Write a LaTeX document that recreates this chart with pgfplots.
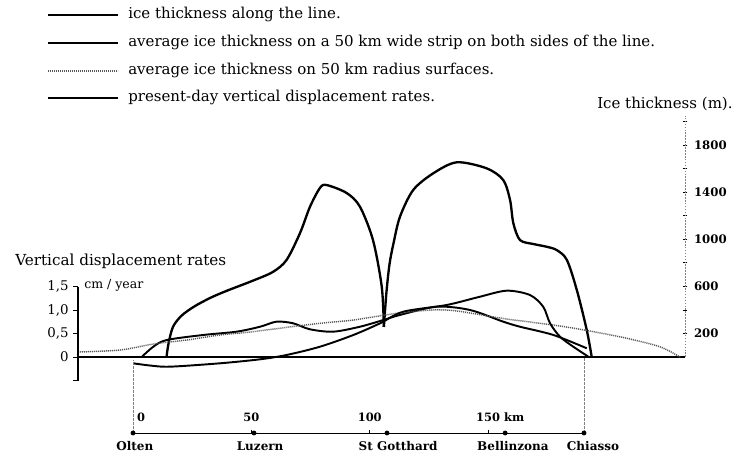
\documentclass[border=0pt]{standalone}
\usepackage{pgfplots}
\usepackage{pgfplotstable}
\pgfplotsset{compat=1.18}
\usepackage{fontspec}
\setmainfont{DejaVu Serif}

% ice thickness along the line (km, m), split at the St Gotthard cusp
\pgfplotstableread{
km m
14.2 0
15.0 110
16.9 255
20.5 350
26.0 430
33.0 505
40.0 565
50.3 645
59.1 722
64.9 824
70.6 1053
74.8 1276
79.0 1435
81.8 1460
90.3 1392
95.9 1276
101.4 993
105.1 597
106.0 255
}\iceleft
\pgfplotstableread{
km m
106.0 255
107.1 552
108.4 790
110.1 968
112.8 1191
118.4 1418
126.9 1560
136.8 1653
149.4 1602
156.4 1503
159.3 1333
160.7 1135
163.5 993
169.2 959
174.8 936
179.0 908
183.3 824
187.5 569
191.7 229
193.8 0
}\iceright
% average ice thickness, 50 km wide strip
\pgfplotstableread{
km m
3.7 0
8.6 87
14.2 144
29.7 187
43.8 215
53.7 257
60.7 300
67.7 286
74.8 235
84.6 215
95.9 257
105.8 314
112.8 357
128.3 427
142.4 399
156.4 300
163.5 257
177.6 187
191.7 74
}\strip
% average ice thickness, 50 km radius surfaces
\pgfplotstableread{
km m
-23.2 42
-5.5 59
8.6 110
22.7 144
36.8 187
50.8 215
64.9 252
79.0 286
93.1 314
112.8 374
132.5 399
156.4 327
180.4 263
194.5 215
208.6 159
222.6 87
231.1 0
}\radius
% present-day vertical displacement rates (km, cm/year)
\pgfplotstableread{
km v
0.1 -0.134
7.2 -0.181
15.6 -0.206
36.8 -0.134
53.7 -0.049
64.9 0.043
79.0 0.219
93.1 0.468
104.4 0.717
114.2 0.964
132.5 1.106
146.6 1.283
157.9 1.411
167.7 1.319
173.3 1.070
176.2 0.717
180.4 0.432
186.0 0.219
192.6 0
}\disp

\begin{document}
\begin{tikzpicture}[x=0.75pt,y=0.75pt]
\path[use as bounding box] (0,0) rectangle (733,458);

% legend
\draw[line width=1.6pt] (48,443) -- (118,443);
\draw[line width=1.6pt] (48,415) -- (118,415);
\draw[black!65, line width=1.1pt, dash pattern=on 0.8pt off 0.7pt] (48,387) -- (118,387);
\draw[line width=1.6pt] (48,360) -- (118,360);
\begin{scope}[every node/.style={anchor=base west, inner sep=0pt, font=\fontsize{11.25}{13}\selectfont}]
\node at (128,439) {ice thickness along the line.};
\node at (128,411.3) {average ice thickness on a 50 km wide strip on both sides of the line.};
\node at (128,383.7) {average ice thickness on 50 km radius surfaces.};
\node at (128,356) {present-day vertical displacement rates.};
\node at (597,349) {Ice thickness (m).};
\node[font=\fontsize{11.4}{13}\selectfont] at (15,192) {Vertical displacement rates};
\node[font=\fontsize{9.4}{11}\selectfont] at (84,170) {cm / year};
\end{scope}

% ice thickness axis (right)
\begin{axis}[
  at={(58.5pt,75.75pt)}, anchor=south west, scale only axis,
  width=455.25pt, height=181.1pt,
  xmin=-23.2, xmax=233.2, ymin=0, ymax=2050,
  axis x line*=bottom, axis y line*=right,
  x axis line style={black, line width=1pt},
  y axis line style={gray, line width=0.6pt, dash pattern=on 1.2pt off 1pt},
  xtick=\empty,
  ytick={200,400,...,2000},
  yticklabels={200,,600,,1000,,1400,,1800,},
  tick align=center, major tick length=3.5pt,
  ytick style={black, line width=0.5pt},
  yticklabel style={font=\bfseries\fontsize{8.8}{10}\selectfont, xshift=1.5pt},
  clip=false,
]
\addplot[line width=1.75pt, smooth] table {\iceleft};
\addplot[line width=1.75pt, smooth] table {\iceright};
\addplot[line width=1.45pt, smooth] table {\strip};
\addplot[black!65, line width=1.1pt, dash pattern=on 0.8pt off 0.7pt, smooth] table {\radius};
\end{axis}

% vertical displacement axis (left)
\begin{axis}[
  at={(58.5pt,58.125pt)}, anchor=south west, scale only axis,
  width=455.25pt, height=70.5pt,
  xmin=-23.2, xmax=233.2, ymin=-0.5, ymax=1.5,
  axis x line=none, axis y line*=left,
  y axis line style={black, line width=0.9pt},
  ytick={-0.5,0,0.5,1,1.5},
  yticklabels={,0,{0,5},{1,0},{1,5}},
  tick align=outside, major tick length=3.5pt,
  ytick style={black, line width=0.7pt},
  yticklabel style={font=\fontsize{10}{12}\selectfont},
  clip=false,
]
\addplot[line width=1.45pt, smooth] table {\disp};
\end{axis}

% distance scale
\begin{axis}[
  at={(99.75pt,11.25pt)}, anchor=south west, scale only axis,
  width=338.25pt, height=7.5pt,
  xmin=0, xmax=190.5, ymin=-1, ymax=0,
  axis x line*=top, axis y line=none,
  x axis line style={black, line width=0.7pt},
  xtick={0,50,100,150},
  xticklabels={\rlap{\hspace{3pt}0},50,100,150\rlap{ km}},
  tick align=outside, major tick length=2.5pt,
  xtick style={black, line width=0.5pt},
  xticklabel style={font=\bfseries\fontsize{8.6}{10}\selectfont, anchor=base, inner sep=0pt, yshift=6pt},
  clip=false,
]
\draw[gray, line width=0.6pt, dash pattern=on 2pt off 1pt] (axis cs:0,0) -- (axis cs:0,7.3);
\draw[gray, line width=0.6pt, dash pattern=on 2pt off 1pt] (axis cs:190.5,0) -- (axis cs:190.5,7.6);
\addplot[only marks, mark=*, mark size=1.6pt] coordinates {(0,0) (51.1,0) (107.3,0) (157.2,0) (190.5,0)};
\addplot[draw=none, nodes near coords, point meta=explicit symbolic,
  every node near coord/.append style={anchor=base, inner sep=0pt, yshift=-13.1pt, font=\bfseries\fontsize{9}{11}\selectfont}]
  table[col sep=comma, x=x, y=y, meta=name] {
x,y,name
0.8,0,Olten
53.7,0,Luzern
112.0,0,St Gotthard
160.5,0,Bellinzona
194.3,0,Chiasso
};
\end{axis}
\end{tikzpicture}
\end{document}
